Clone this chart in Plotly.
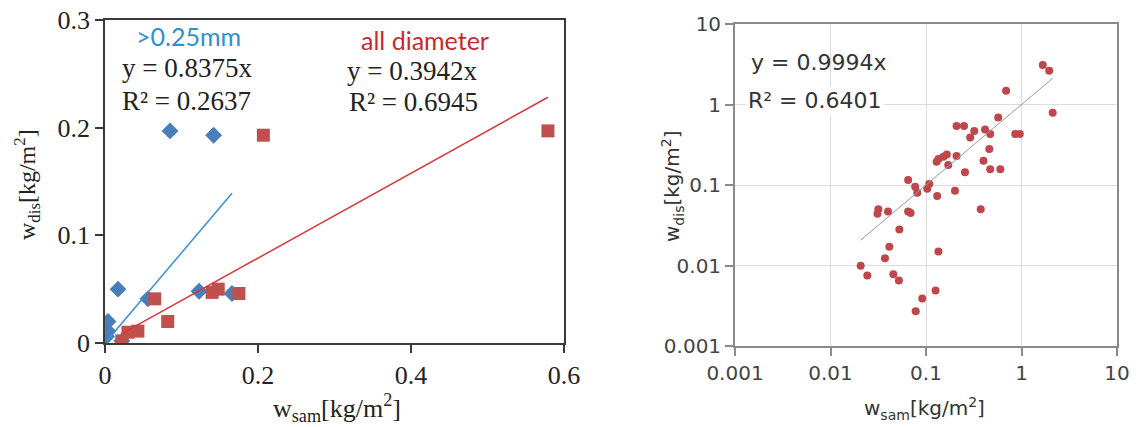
import plotly.graph_objects as go

# ---------------- data ----------------
# left panel (linear)
blue_x = [0.085, 0.142, 0.017, 0.056, 0.123, 0.166, 0.004, 0.004, 0.022, 0.002]
blue_y = [0.197, 0.193, 0.050, 0.041, 0.048, 0.046, 0.020, 0.011, 0.002, 0.006]
red_x = [0.207, 0.579, 0.065, 0.140, 0.148, 0.175, 0.082, 0.030, 0.043, 0.022]
red_y = [0.193, 0.197, 0.041, 0.047, 0.050, 0.046, 0.020, 0.010, 0.011, 0.002]
blue_slope = 0.8375
red_slope = 0.3942
left_xticks = [0, 0.2, 0.4, 0.6]
left_xticklabels = ["0", "0.2", "0.4", "0.6"]
left_yticks = [0, 0.1, 0.2, 0.3]
left_yticklabels = ["0", "0.1", "0.2", "0.3"]

# right panel (log-log)
log_x = [1.67, 1.95, 0.69, 2.12, 0.57, 0.209, 0.25, 0.415, 0.32, 0.47,
         0.29, 0.86, 0.96, 0.46, 0.209, 0.165, 0.152, 0.135, 0.129, 0.171,
         0.40, 0.47, 0.60, 0.256, 0.065, 0.077, 0.081, 0.108, 0.103, 0.131,
         0.201, 0.374, 0.0317, 0.040, 0.031, 0.065, 0.069, 0.0526, 0.0413, 0.0372,
         0.135, 0.0207, 0.0243, 0.0455, 0.052, 0.126, 0.0914, 0.078]
log_y = [3.1, 2.63, 1.48, 0.79, 0.69, 0.54, 0.54, 0.49, 0.47, 0.43,
         0.39, 0.43, 0.43, 0.28, 0.23, 0.24, 0.225, 0.21, 0.195, 0.177,
         0.20, 0.157, 0.157, 0.144, 0.115, 0.095, 0.080, 0.103, 0.090, 0.073,
         0.085, 0.050, 0.050, 0.047, 0.044, 0.047, 0.045, 0.0281, 0.0171, 0.0123,
         0.0149, 0.00995, 0.0075, 0.0078, 0.0065, 0.0049, 0.0039, 0.0027]
log_slope = 0.9994
log_ticks = [0.001, 0.01, 0.1, 1, 10]
log_ticklabels = ["0.001", "0.01", "0.1", "1", "10"]

# ---------------- styles ----------------
W, H = 1140, 427
OFF = 8  # page body margin offset of the figure
BLUE = "#4a7ebb"
BLUE_LINE = "#3592cf"
RED = "#c0504d"
RED_LINE = "#d8373d"
AX = "#3a3a3a"
AX2 = "#8a8a8a"
SERIF = "Liberation Serif"
SANS = "DejaVu Sans"
SANS2 = "Lato"


def px(X):
    return (X - OFF) / W


def py(Y):
    return 1 - (Y - OFF) / H


fig = go.Figure()

# left panel
fig.add_trace(go.Scatter(x=blue_x, y=blue_y, mode="markers",
                         marker=dict(symbol="diamond", size=13, color=BLUE),
                         xaxis="x", yaxis="y", showlegend=False))
bx = [min(blue_x), max(blue_x)]
fig.add_trace(go.Scatter(x=bx, y=[blue_slope * v for v in bx], mode="lines",
                         line=dict(color=BLUE_LINE, width=1.5),
                         xaxis="x", yaxis="y", showlegend=False))
fig.add_trace(go.Scatter(x=red_x, y=red_y, mode="markers",
                         marker=dict(symbol="square", size=13, color=RED),
                         xaxis="x", yaxis="y", showlegend=False))
rx = [min(red_x), max(red_x)]
fig.add_trace(go.Scatter(x=rx, y=[red_slope * v for v in rx], mode="lines",
                         line=dict(color=RED_LINE, width=1.5),
                         xaxis="x", yaxis="y", showlegend=False))

# right panel
fig.add_trace(go.Scatter(x=log_x, y=log_y, mode="markers",
                         marker=dict(symbol="circle", size=8, color="#bf474b"),
                         xaxis="x2", yaxis="y2", showlegend=False))
lx = [min(log_x), max(log_x)]
fig.add_trace(go.Scatter(x=lx, y=[log_slope * v for v in lx], mode="lines",
                         line=dict(color="#9a9a9a", width=1),
                         xaxis="x2", yaxis="y2", showlegend=False))


def axis_style(color):
    return dict(showline=True, linecolor=color, linewidth=1.8, mirror=True,
                ticks="outside", ticklen=8, tickcolor=color, tickwidth=1.5,
                zeroline=False, automargin=False, ticklabeloverflow="allow")


fig.update_layout(
    width=W, height=H,
    margin=dict(l=0, r=0, t=0, b=0, autoexpand=False),
    paper_bgcolor="white", plot_bgcolor="white",
    xaxis=dict(domain=[px(105), px(564)], range=[0, 0.6], tickvals=left_xticks,
               ticktext=left_xticklabels, showgrid=False,
               tickfont=dict(family=SERIF, size=26, color="#222"),
               anchor="y", **axis_style(AX)),
    yaxis=dict(domain=[py(343), py(20)], range=[0, 0.3], tickvals=left_yticks,
               ticktext=left_yticklabels, showgrid=False,
               tickfont=dict(family=SERIF, size=26, color="#222"),
               anchor="x", **axis_style(AX)),
    xaxis2=dict(domain=[px(735), px(1117)], type="log", range=[-3, 1],
                tickvals=log_ticks, ticktext=log_ticklabels,
                showgrid=True, gridcolor="#dcdcdc", gridwidth=1,
                tickfont=dict(family=SANS, size=20, color="#444"),
                anchor="y2", **axis_style(AX2)),
    yaxis2=dict(domain=[py(346), py(24)], type="log", range=[-3, 1],
                tickvals=log_ticks, ticktext=log_ticklabels,
                showgrid=True, gridcolor="#dcdcdc", gridwidth=1,
                tickfont=dict(family=SANS, size=20, color="#444"),
                anchor="x2", **axis_style(AX2)),
)


def ann(text, x, y, size, color="#222", family=SERIF, angle=0, bg=None):
    d = dict(text=text, x=px(x), y=py(y), xref="paper", yref="paper",
             showarrow=False, font=dict(family=family, size=size, color=color),
             textangle=angle, xanchor="center", yanchor="middle")
    if bg:
        d["bgcolor"] = bg
    fig.add_annotation(**d)


# left panel texts
ann(">0.25mm", 188, 36, 25, color="#2f8fd0", family=SANS2)
ann("y = 0.8375x", 187, 68, 27)
ann("R² = 0.2637", 186, 101, 27)
ann("all diameter", 425, 40, 25, color="#c8282e", family=SANS2)
ann("y = 0.3942x", 412, 71, 27)
ann("R² = 0.6945", 413, 102, 27)
ann("w<sub>dis</sub>[kg/m<sup>2</sup>]", 27, 185, 24, angle=-90)
ann("w<sub>sam</sub>[kg/m<sup>2</sup>]", 337, 408, 26)

# right panel texts
ann("y = 0.9994x", 818, 62, 22, color="#333", family=SANS)
ann("R² = 0.6401", 815, 100, 22, color="#333", family=SANS, bg="white")
ann("w<sub>dis</sub>[kg/m<sup>2</sup>]", 672, 187, 20, color="#333", family=SANS, angle=-90)
ann("w<sub>sam</sub>[kg/m<sup>2</sup>]", 925, 408, 20, color="#333", family=SANS)

fig.write_html("out.html")
